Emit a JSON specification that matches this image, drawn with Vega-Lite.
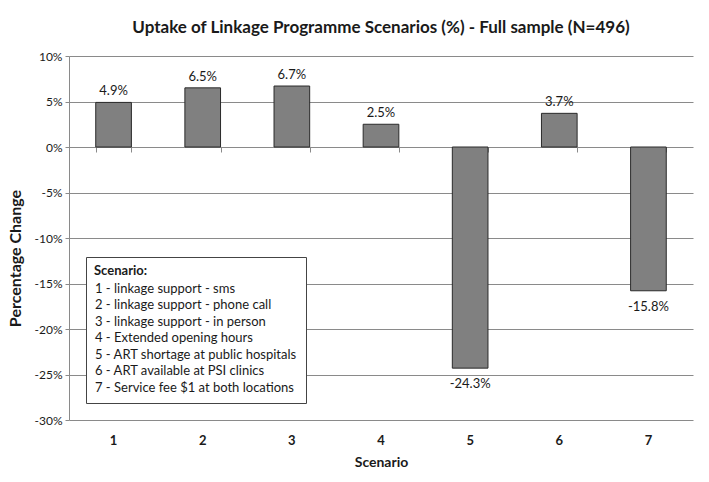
{
  "$schema": "https://vega.github.io/schema/vega-lite/v6.json",
  "autosize": "none",
  "width": 624,
  "height": 364,
  "padding": {"left": 69, "top": 56, "right": 16, "bottom": 62},
  "background": "white",
  "title": {
    "text": "Uptake of Linkage Programme Scenarios (%) - Full sample (N=496)",
    "fontSize": 17,
    "font": "Lato",
    "fontWeight": "bold",
    "color": "#1a1a1a",
    "anchor": "middle",
    "offset": 13
  },
  "data": {
    "values": [
      {"scenario": "1", "value": 4.9, "desc": "1 - linkage support - sms"},
      {"scenario": "2", "value": 6.5, "desc": "2 - linkage support - phone call"},
      {"scenario": "3", "value": 6.7, "desc": "3 - linkage support - in person"},
      {"scenario": "4", "value": 2.5, "desc": "4 - Extended opening hours"},
      {"scenario": "5", "value": -24.3, "desc": "5 - ART shortage at public hospitals"},
      {"scenario": "6", "value": 3.7, "desc": "6 - ART available at PSI clinics"},
      {"scenario": "7", "value": -15.8, "desc": "7 - Service fee $1 at both locations"}
    ]
  },
  "transform": [{"calculate": "datum.value + '%'", "as": "label"}],
  "encoding": {
    "y": {
      "field": "value",
      "type": "quantitative",
      "scale": {"domain": [-30, 10], "nice": false},
      "axis": {
        "title": "Percentage Change",
        "titleFont": "Lato",
        "titleFontSize": 16,
        "titleFontWeight": "bold",
        "titleColor": "#1a1a1a",
        "titleX": -46,
        "titleY": 202,
        "values": [-30, -25, -20, -15, -10, -5, 0, 5, 10],
        "labelExpr": "datum.value + '%'",
        "labelFont": "Lato",
        "labelFontSize": 12,
        "labelColor": "#1a1a1a",
        "labelPadding": 3,
        "grid": true,
        "gridColor": "#8a8a8a",
        "gridWidth": 1,
        "domainColor": "#8a8a8a",
        "tickColor": "#8a8a8a",
        "tickSize": 4
      }
    }
  },
  "layer": [
    {
      "mark": {"type": "bar", "stroke": "#2a2a2a", "strokeWidth": 1},
      "encoding": {
        "x": {
          "field": "scenario",
          "type": "nominal",
          "scale": {"paddingInner": 0.6, "paddingOuter": 0.3},
          "axis": {
            "orient": "bottom",
            "title": "Scenario",
            "titleFont": "Lato",
            "titleFontSize": 14,
            "titleFontWeight": "bold",
            "titleColor": "#1a1a1a",
            "titlePadding": 8,
            "labelAngle": 0,
            "labelFont": "Lato",
            "labelFontSize": 13,
            "labelFontWeight": "bold",
            "labelColor": "#1a1a1a",
            "labelPadding": 14,
            "domain": false,
            "ticks": false
          }
        },
        "color": {
          "field": "desc",
          "type": "nominal",
          "scale": {"range": ["#808080", "#808080", "#808080", "#808080", "#808080", "#808080", "#808080"]},
          "legend": {
            "orient": "none",
            "legendX": 17,
            "legendY": 201,
            "title": "Scenario:",
            "titleFont": "Lato",
            "titleFontSize": 13,
            "titleFontWeight": "bold",
            "titleColor": "#1a1a1a",
            "titlePadding": 4,
            "labelFont": "Lato",
            "labelFontSize": 13,
            "labelColor": "#1a1a1a",
            "labelLimit": 400,
            "fillColor": "white",
            "strokeColor": "#444444",
            "padding": 8,
            "symbolSize": 1,
            "symbolOpacity": 0,
            "symbolStrokeWidth": 0,
            "labelOffset": -12,
            "rowPadding": 2.5
          }
        }
      }
    },
    {
      "transform": [{"filter": "datum.value >= 0"}],
      "mark": {"type": "text", "baseline": "bottom", "dy": -4, "font": "Lato", "fontSize": 13, "color": "#1a1a1a"},
      "encoding": {
        "x": {
          "field": "scenario",
          "type": "nominal",
          "axis": {
            "orient": "bottom",
            "title": null,
            "labels": false,
            "domain": false,
            "ticks": true,
            "tickBand": "extent",
            "tickSize": 5,
            "tickColor": "#8a8a8a",
            "offset": -273
          }
        },
        "text": {"field": "label"}
      }
    },
    {
      "transform": [{"filter": "datum.value < 0"}],
      "mark": {"type": "text", "baseline": "top", "dy": 10, "font": "Lato", "fontSize": 13, "color": "#1a1a1a"},
      "encoding": {
        "x": {"field": "scenario", "type": "nominal", "axis": null},
        "text": {"field": "label"}
      }
    }
  ],
  "resolve": {"axis": {"x": "independent"}},
  "config": {"view": {"stroke": null}}
}
